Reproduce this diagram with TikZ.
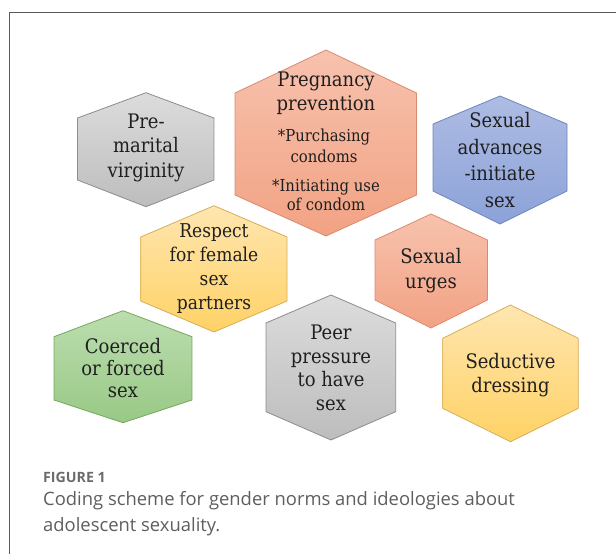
\documentclass[tikz,border=0pt]{standalone}
\usepackage{fontspec}
\newfontfamily\hexfont{DejaVu Serif Condensed}
\newfontfamily\capfont{Open Sans}

% hexagon: centre x, top y, upper side y, lower side y, bottom y, left x, right x, style
\newcommand\hexcell[8]{%
  \path[#8] (#1,#2) -- (#7,#3) -- (#7,#4) -- (#1,#5) -- (#6,#4) -- (#6,#3) -- cycle;}

\definecolor{salmonTop}{HTML}{F7C2AE}
\definecolor{salmonBot}{HTML}{F2A283}
\definecolor{salmonLine}{HTML}{D98B70}
\definecolor{greyTop}{HTML}{DCDCDC}
\definecolor{greyBot}{HTML}{BDBDBD}
\definecolor{greyLine}{HTML}{8C8C8C}
\definecolor{blueTop}{HTML}{AEBCE3}
\definecolor{blueBot}{HTML}{8CA2D8}
\definecolor{blueLine}{HTML}{6F85BF}
\definecolor{yellowTop}{HTML}{FFE6B0}
\definecolor{yellowBot}{HTML}{FFD266}
\definecolor{yellowLine}{HTML}{D5AE5A}
\definecolor{greenTop}{HTML}{BCDDAF}
\definecolor{greenBot}{HTML}{98C985}
\definecolor{greenLine}{HTML}{76A75F}
\definecolor{labelInk}{HTML}{1F1F1F}
\definecolor{frameInk}{HTML}{5A5A5A}
\definecolor{capHead}{HTML}{6B6B6B}
\definecolor{capInk}{HTML}{5E5E5E}

\tikzset{
  hexsalmon/.style={draw=salmonLine, top color=salmonTop, bottom color=salmonBot, line width=0.8pt},
  hexgrey/.style={draw=greyLine, top color=greyTop, bottom color=greyBot, line width=0.8pt},
  hexblue/.style={draw=blueLine, top color=blueTop, bottom color=blueBot, line width=0.8pt},
  hexyellow/.style={draw=yellowLine, top color=yellowTop, bottom color=yellowBot, line width=0.8pt},
  hexgreen/.style={draw=greenLine, top color=greenTop, bottom color=greenBot, line width=0.8pt},
  hexlabel/.style={align=center, text=labelInk, inner sep=0pt},
  hexbig/.style={hexlabel, font={\hexfont\fontsize{20}{#1}\selectfont}},
  hexsmall/.style={hexlabel, font={\hexfont\fontsize{16.5}{#1}\selectfont}},
  caphead/.style={anchor=base west, inner sep=0pt, text=capHead, font={\capfont\bfseries\fontsize{14.2}{16}\selectfont}},
  captext/.style={anchor=base west, inner sep=0pt, text=capInk, font={\capfont\fontsize{18.4}{22}\selectfont}},
}

\begin{document}
\begin{tikzpicture}[x=1pt,y=-1pt]
\useasboundingbox (0,0) rectangle (616,554);

% outer frame (open to the right and bottom)
\draw[frameInk, line width=1.5pt] (9.5,554) -- (9.5,12.5) -- (616,12.5);

% hexagon cells
\hexcell{326}{50}{93}{195}{236}{235}{416.5}{hexsalmon}
\hexcell{146}{92.7}{118}{180}{206.7}{77.5}{214}{hexgrey}
\hexcell{500}{96}{124}{191}{224}{433}{567}{hexblue}
\hexcell{214}{205.7}{237}{301}{332}{140.7}{287}{hexyellow}
\hexcell{431}{214}{240}{300}{328}{375}{487.5}{hexsalmon}
\hexcell{123}{310.7}{336.7}{400}{422.7}{54}{192}{hexgreen}
\hexcell{331}{295}{323}{411.7}{440}{266}{395.7}{hexgrey}
\hexcell{510.5}{305}{338.3}{408.3}{441.7}{442.7}{578.3}{hexyellow}

% labels
\node[hexbig=24] (preg) at (326,93.5) {Pregnancy\\prevention};
\node[hexsmall=21] (purch) at (324,146) {*Purchasing\\condoms};
\node[hexsmall=19] (initi) at (326,195) {*Initiating use\\of condom};
\node[hexbig=24.5] (premar) at (146,147.5) {Pre-\\marital\\virginity};
\node[hexbig=26.5] (advan) at (500,160) {Sexual\\advances\\-initiate\\sex};
\node[hexlabel, font={\hexfont\fontsize{19}{23.7}\selectfont}] (respect) at (214,268.5) {Respect\\for female\\sex\\partners};
\node[hexbig=25.5] (urges) at (431,270.5) {Sexual\\urges};
\node[hexbig=22] (coerce) at (123,368) {Coerced\\or forced\\sex};
\node[hexbig=23.5] (peer) at (331,368) {Peer\\pressure\\to have\\sex};
\node[hexbig=23.5] (seduce) at (510.5,375) {Seductive\\dressing};

% caption
\node[caphead] (fighead) at (43,482) {FIGURE 1};
\node[captext] (capone) at (43,505) {Coding scheme for gender norms and ideologies about};
\node[captext] (captwo) at (43,531) {adolescent sexuality.};
\end{tikzpicture}
\end{document}
